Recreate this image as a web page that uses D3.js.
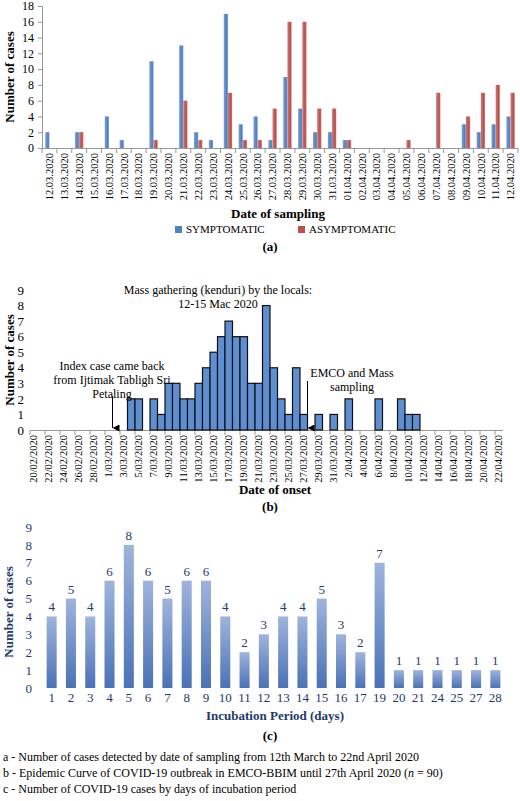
<!DOCTYPE html>
<html><head><meta charset="utf-8">
<script src="https://cdn.jsdelivr.net/npm/d3@7"></script>
<style>
body{margin:0;background:#fff;}
svg, svg text{font-family:"Liberation Serif","Times New Roman",serif !important;}
</style></head>
<body><svg id="chart" width="520" height="801"></svg>
<script>
// panel a
const samplingDates = ["12.03.2020","13.03.2020","14.03.2020","15.03.2020","16.03.2020","17.03.2020","18.03.2020","19.03.2020","20.03.2020","21.03.2020","22.03.2020","23.03.2020","24.03.2020","25.03.2020","26.03.2020","27.03.2020","28.03.2020","29.03.2020","30.03.2020","31.03.2020","01.04.2020","02.04.2020","03.04.2020","04.04.2020","05.04.2020","06.04.2020","07.04.2020","08.04.2020","09.04.2020","10.04.2020","11.04.2020","12.04.2020"];
const symptomatic  = [2,0,2,0,4,1,0,11,0,13,2,1,17,3,4,1,9,5,2,2,1,0,0,0,0,0,0,0,3,2,3,4];
const asymptomatic = [0,0,2,0,0,0,0,1,0,6,1,0,7,1,1,5,16,16,5,5,1,0,0,0,1,0,7,0,4,7,8,7];
const ticksA = [0,2,4,6,8,10,12,14,16,18];

// panel b
const onsetStart = "20/02/2020", onsetEnd = "22/04/2020";
const onsetDates = ["4/03","5/03","6/03","7/03","8/03","9/03","10/03","11/03","12/03","13/03","14/03","15/03","16/03","17/03","18/03","19/03","20/03","21/03","22/03","23/03","24/03","25/03","26/03","27/03","28/03","29/03","30/03","31/03","1/04","2/04","3/04","4/04","5/04","6/04","7/04","8/04","9/04","10/04","11/04"];
const onsetCases = [2,2,0,2,1,3,3,2,2,3,4,5,6,7,6,6,3,3,8,4,2,1,4,1,0,1,0,1,0,2,0,0,0,2,0,0,2,1,1];
const ticksB = [0,1,2,3,4,5,6,7,8,9];

// panel c
const incubationDays = ["1","2","3","4","5","6","7","8","9","10","11","12","13","14","15","16","17","19","20","21","24","25","27","28"];
const incubationCases = [4,5,4,6,8,6,5,6,6,4,2,3,4,4,5,3,2,7,1,1,1,1,1,1];
const ticksC = [0,1,2,3,4,5,6,7,8,9];

const footnotes = [
  "a - Number of cases detected by date of sampling from 12th March to 22nd April 2020",
  ["b - Epidemic Curve of COVID-19 outbreak in EMCO-BBIM until 27th April 2020 (", "n", " = 90)"],
  "c - Number of COVID-19 cases by days of incubation period"
];

const FONT = "Liberation Serif";
const svg = d3.select("#chart").attr("font-family", FONT);
const defs = svg.append("defs");
function grad(id, c1, c2){
  const g = defs.append("linearGradient").attr("id", id).attr("x1",0).attr("x2",1).attr("y1",0).attr("y2",0);
  g.append("stop").attr("offset","0%").attr("stop-color",c1);
  g.append("stop").attr("offset","70%").attr("stop-color",c2);
  g.append("stop").attr("offset","100%").attr("stop-color",c1);
}
grad("gBlue","#7aa0d6","#4f7fc0");
grad("gRed","#d27a77","#b5504c");
const gc = defs.append("linearGradient").attr("id","gC").attr("x1",0).attr("x2",0).attr("y1",0).attr("y2",1);
gc.append("stop").attr("offset","0%").attr("stop-color","#9fb4db");
gc.append("stop").attr("offset","100%").attr("stop-color","#4a72b6");
defs.append("marker").attr("id","arrow").attr("viewBox","0 0 10 10").attr("refX",5).attr("refY",10)
  .attr("markerWidth",7).attr("markerHeight",7).attr("orient","auto-start-reverse")
  .append("path").attr("d","M0,0L10,0L5,10Z").attr("fill","#000");

// ---------- panel a ----------
{
  const x = d3.scaleBand().domain(samplingDates).range([42,518]);
  const y = d3.scaleLinear().domain([0,18]).range([148,6]);
  const g = svg.append("g");
  g.append("g").attr("transform","translate(42,0)")
    .call(d3.axisLeft(y).tickValues(ticksA).tickSize(4).tickPadding(4))
    .attr("font-family", FONT)
    .call(a => a.select(".domain").attr("stroke","#999"))
    .call(a => a.selectAll("line").attr("stroke","#999"))
    .call(a => a.selectAll("text").attr("font-size",12).attr("fill","#000"));
  const xa = g.append("g").attr("transform","translate(0,148)")
    .call(d3.axisBottom(x).tickSize(0).tickPadding(4)).attr("font-family", FONT);
  xa.select(".domain").attr("stroke","#999");
  xa.selectAll("text").attr("font-size",10.5).attr("fill","#000")
    .attr("transform","rotate(-90)").attr("text-anchor","end").attr("dy","0.35em").attr("x",-5).attr("y",0);
  g.selectAll(".tkA").data(samplingDates.concat([null])).join("line")
    .attr("x1",(d,i)=>42+i*x.step()).attr("x2",(d,i)=>42+i*x.step()).attr("y1",148).attr("y2",153).attr("stroke","#999");
  const bw = x.bandwidth()*0.28;
  g.selectAll(".s").data(symptomatic).join("rect")
    .attr("x",(d,i)=>x(samplingDates[i])+x.bandwidth()/2-bw).attr("width",bw)
    .attr("y",d=>y(d)).attr("height",d=>148-y(d)).attr("fill","url(#gBlue)");
  g.selectAll(".a").data(asymptomatic).join("rect")
    .attr("x",(d,i)=>x(samplingDates[i])+x.bandwidth()/2).attr("width",bw)
    .attr("y",d=>y(d)).attr("height",d=>148-y(d)).attr("fill","url(#gRed)");
  g.append("text").attr("transform","translate(14,77) rotate(-90)").attr("text-anchor","middle")
    .attr("font-size",13).attr("font-weight","bold").text("Number of cases");
  g.append("text").attr("x",278).attr("y",218).attr("text-anchor","middle").attr("font-size",13).attr("font-weight","bold").text("Date of sampling");
  g.append("rect").attr("x",175).attr("y",226).attr("width",7).attr("height",7).attr("fill","#4f81bd");
  g.append("text").attr("x",186).attr("y",233).attr("font-size",11).text("SYMPTOMATIC");
  g.append("rect").attr("x",298).attr("y",226).attr("width",7).attr("height",7).attr("fill","#c0504d");
  g.append("text").attr("x",309).attr("y",233).attr("font-size",11).text("ASYMPTOMATIC");
  g.append("text").attr("x",270).attr("y",251).attr("text-anchor","middle").attr("font-size",13).attr("font-weight","bold").text("(a)");
}

// ---------- panel b ----------
{
  const parse = d3.timeParse("%d/%m/%Y");
  const days = d3.timeDay.range(parse(onsetStart), d3.timeDay.offset(parse(onsetEnd),1));
  const fmt = d3.timeFormat("%-d/%m/%Y");
  const dayKeys = days.map(fmt);
  const x = d3.scaleBand().domain(dayKeys).range([30,502.5]);
  const y = d3.scaleLinear().domain([0,9]).range([430,290]);
  const g = svg.append("g");
  g.append("g").attr("transform","translate(30,0)")
    .call(d3.axisLeft(y).tickValues(ticksB).tickSize(0).tickPadding(6)).attr("font-family", FONT)
    .call(a => a.select(".domain").remove())
    .call(a => a.selectAll("text").attr("font-size",13).attr("fill","#000"));
  const labelKeys = dayKeys.filter((d,i)=>i%2===0);
  const xa = g.append("g").attr("transform","translate(0,430)")
    .call(d3.axisBottom(x).tickValues(labelKeys).tickSize(0).tickPadding(4)).attr("font-family", FONT);
  xa.select(".domain").attr("stroke","#999");
  xa.selectAll("text").attr("font-size",10.5).attr("fill","#000")
    .attr("transform","rotate(-90)").attr("text-anchor","end").attr("dy","0.35em").attr("x",-5).attr("y",0);
  g.selectAll(".tkB").data(labelKeys).join("line")
    .attr("x1",d=>x(d)).attr("x2",d=>x(d)).attr("y1",430).attr("y2",435).attr("stroke","#999");
  const keyOf = s => fmt(parse(s+"/2020"));
  const bars = onsetDates.map((d,i)=>({key:keyOf(d), v:onsetCases[i]})).filter(b=>b.v>0);
  g.selectAll(".b").data(bars).join("rect")
    .attr("x",d=>x(d.key)).attr("width",x.bandwidth())
    .attr("y",d=>y(d.v)).attr("height",d=>430-y(d.v))
    .attr("fill","#5f8fd3").attr("stroke","#111").attr("stroke-width",1.2);
  const idx = x(keyOf("2/03")), emco = x(keyOf("28/03"));
  g.append("line").attr("x1",idx).attr("x2",idx).attr("y1",396).attr("y2",428).attr("stroke","#000").attr("marker-end","url(#arrow)");
  g.append("line").attr("x1",emco).attr("x2",emco).attr("y1",381).attr("y2",428).attr("stroke","#000").attr("marker-end","url(#arrow)");
  const t = (xx,yy,s)=>g.append("text").attr("x",xx).attr("y",yy).attr("text-anchor","middle").attr("font-size",12).text(s);
  t(112,370,"Index case came back"); t(112,384,"from Ijtimak Tabligh Sri"); t(112,398,"Petaling");
  t(218,294,"Mass gathering (kenduri) by the locals:"); t(218,308,"12-15 Mac 2020");
  t(352,377,"EMCO and Mass"); t(352,391,"sampling");
  g.append("text").attr("transform","translate(14,360) rotate(-90)").attr("text-anchor","middle")
    .attr("font-size",13).attr("font-weight","bold").text("Number of cases");
  g.append("text").attr("x",275).attr("y",494).attr("text-anchor","middle").attr("font-size",13).attr("font-weight","bold").text("Date of onset");
  g.append("text").attr("x",270).attr("y",511).attr("text-anchor","middle").attr("font-size",13).attr("font-weight","bold").text("(b)");
}

// ---------- panel c ----------
{
  const navy = "#23396b";
  const x = d3.scaleBand().domain(incubationDays).range([42,505]).paddingInner(0.48).paddingOuter(0.24);
  const y = d3.scaleLinear().domain([0,9]).range([688,527]);
  const g = svg.append("g");
  g.append("g").attr("transform","translate(36,0)")
    .call(d3.axisLeft(y).tickValues(ticksC).tickSize(0).tickPadding(4)).attr("font-family", FONT)
    .call(a => a.select(".domain").remove())
    .call(a => a.selectAll("text").attr("font-size",13).attr("fill",navy));
  g.append("g").attr("transform","translate(0,688)")
    .call(d3.axisBottom(x).tickSize(0).tickPadding(5)).attr("font-family", FONT)
    .call(a => a.select(".domain").remove())
    .call(a => a.selectAll("text").attr("font-size",13).attr("fill",navy));
  g.selectAll(".c").data(incubationCases).join("rect")
    .attr("x",(d,i)=>x(incubationDays[i])).attr("width",x.bandwidth())
    .attr("y",d=>y(d)).attr("height",d=>688-y(d)).attr("fill","url(#gC)");
  g.selectAll(".cl").data(incubationCases).join("text")
    .attr("x",(d,i)=>x(incubationDays[i])+x.bandwidth()/2).attr("y",d=>y(d)-5)
    .attr("text-anchor","middle").attr("font-size",13).attr("fill",navy).text(d=>d);
  g.append("text").attr("transform","translate(13,612) rotate(-90)").attr("text-anchor","middle")
    .attr("font-size",13).attr("font-weight","bold").attr("fill",navy).text("Number of cases");
  g.append("text").attr("x",275).attr("y",720).attr("text-anchor","middle").attr("font-size",13).attr("font-weight","bold").attr("fill",navy).text("Incubation Period (days)");
  g.append("text").attr("x",270).attr("y",740).attr("text-anchor","middle").attr("font-size",13).attr("font-weight","bold").text("(c)");
}

// footnotes
footnotes.forEach((f,i)=>{
  const t = svg.append("text").attr("x",3).attr("y",761+i*16).attr("font-size",12);
  if (typeof f === "string") t.text(f);
  else f.forEach((p,j)=>t.append("tspan").attr("font-style",j===1?"italic":null).text(p));
});
</script></body></html>
